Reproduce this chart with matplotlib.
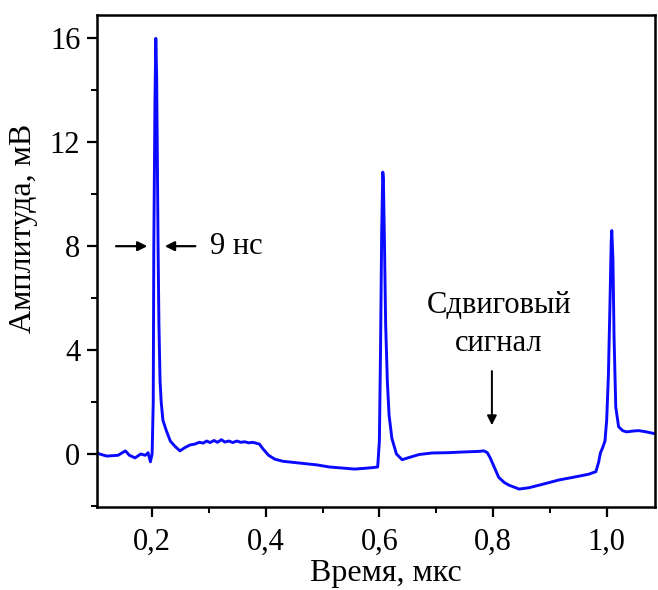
import matplotlib
matplotlib.use("Agg")
import matplotlib.pyplot as plt
from matplotlib.ticker import MultipleLocator, FuncFormatter

# =======================================================
# DATA

time_us = [0.100, 0.120, 0.140, 0.153, 0.160, 0.170, 0.180, 0.188, 0.193, 0.197,
           0.200, 0.202, 0.203, 0.205, 0.2065, 0.208, 0.209, 0.2105, 0.212, 0.214,
           0.216, 0.219, 0.225, 0.232, 0.240, 0.249, 0.258, 0.267, 0.275, 0.283,
           0.290, 0.296, 0.302, 0.309, 0.315, 0.322, 0.328, 0.335, 0.342, 0.349,
           0.356, 0.363, 0.370, 0.377, 0.384, 0.389,
           0.395, 0.405, 0.416, 0.430, 0.460, 0.490, 0.512, 0.540, 0.556, 0.575,
           0.590, 0.597, 0.600, 0.602, 0.604, 0.606, 0.607, 0.609, 0.611, 0.614,
           0.617, 0.622, 0.630, 0.640, 0.650, 0.670, 0.693, 0.720, 0.750, 0.775,
           0.784, 0.790, 0.795, 0.802, 0.810, 0.820, 0.828, 0.846, 0.863, 0.890,
           0.916, 0.945, 0.968, 0.981, 0.986, 0.989, 0.993, 0.997, 1.000, 1.003,
           1.006, 1.008, 1.009, 1.011, 1.013, 1.016, 1.021, 1.028, 1.035, 1.045,
           1.056, 1.070, 1.085]
amp_mV = [0.05, -0.08, -0.05, 0.12, -0.05, -0.15, 0.0, -0.05, 0.05, -0.3,
          0.0, 2.0, 8.0, 13.5, 16.0, 14.5, 12.0, 8.0, 5.0, 2.8,
          2.0, 1.3, 0.9, 0.5, 0.3, 0.12, 0.25, 0.35, 0.38, 0.45,
          0.42, 0.5, 0.44, 0.52, 0.45, 0.55, 0.46, 0.5, 0.44, 0.5,
          0.45, 0.47, 0.43, 0.45, 0.41, 0.38,
          0.2, -0.05, -0.2, -0.28, -0.35, -0.42, -0.5, -0.55, -0.58, -0.55,
          -0.52, -0.5, 0.5, 4.0, 8.5, 10.85, 10.6, 8.0, 5.0, 2.8,
          1.5, 0.6, 0.0, -0.22, -0.15, -0.02, 0.04, 0.05, 0.08, 0.1,
          0.12, 0.05, -0.15, -0.5, -0.9, -1.1, -1.2, -1.35, -1.3, -1.15,
          -1.0, -0.88, -0.78, -0.68, -0.3, 0.04, 0.25, 0.5, 1.3, 3.0,
          6.0, 8.2, 8.6, 7.5, 4.5, 1.8, 1.05, 0.9, 0.85, 0.88,
          0.9, 0.85, 0.78]

x_ticks = [0.2, 0.4, 0.6, 0.8, 1.0]
y_ticks = [0, 4, 8, 12, 16]

# =======================================================
# PLOT

plt.rcParams['font.family'] = ['Liberation Serif', 'DejaVu Serif']
plt.rcParams['font.size'] = 22

fig = plt.figure(figsize=(6.58, 5.90), dpi=100)
ax = fig.add_axes([0.1474, 0.1407, 0.8480, 0.8339])

ax.plot(time_us, amp_mV, color='#0a0aff', lw=2.1)

ax.set_xlim(0.103, 1.085)
ax.set_ylim(-2.04, 16.9)
ax.set_xticks(x_ticks)
ax.set_yticks(y_ticks)
ax.xaxis.set_minor_locator(MultipleLocator(0.1))
ax.yaxis.set_minor_locator(MultipleLocator(2))
ax.xaxis.set_major_formatter(FuncFormatter(lambda v, p: f"{v:.1f}".replace('.', ',')))
ax.tick_params(which='major', direction='out', length=7, width=1.6, pad=5, labelsize=22)
ax.tick_params(which='minor', direction='out', length=4, width=1.4)
ax.tick_params(axis='x', which='major', pad=8)
for s in ax.spines.values():
    s.set_linewidth(1.8)

ax.set_xlabel('Время, мкс', fontsize=23)
ax.set_ylabel('Амплитуда, мВ', fontsize=23)
ax.xaxis.set_label_coords(0.518, -0.105)
ax.yaxis.set_label_coords(-0.105, 0.567)

# 9 ns width markers
ax.annotate('', xy=(0.1965, 8), xytext=(0.1316, 8),
            arrowprops=dict(arrowstyle='-|>', color='black', lw=1.6, mutation_scale=14))
ax.annotate('', xy=(0.2175, 8), xytext=(0.281, 8),
            arrowprops=dict(arrowstyle='-|>', color='black', lw=1.6, mutation_scale=14))
ax.text(0.302, 8, '9 нс', ha='left', va='center', fontsize=22)

# shear signal marker
ax.text(0.81, 5.73, 'Сдвиговый', ha='center', va='center', fontsize=22)
ax.text(0.81, 4.27, 'сигнал', ha='center', va='center', fontsize=22)
ax.annotate('', xy=(0.798, 1.0), xytext=(0.798, 3.3),
            arrowprops=dict(arrowstyle='-|>', color='black', lw=1.4, mutation_scale=14))

plt.savefig('out.png', dpi=100)
plt.close()
